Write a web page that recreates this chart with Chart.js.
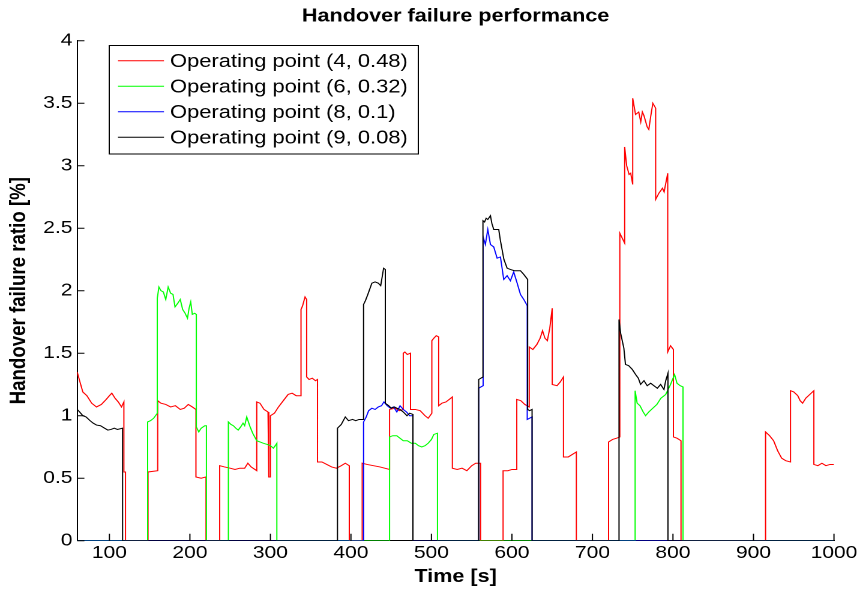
<!DOCTYPE html>
<html>
<head>
<meta charset="utf-8">
<title>Handover failure performance</title>
<script src="https://cdn.jsdelivr.net/npm/chart.js@4.4.1/dist/chart.umd.min.js"></script>
<style>
  html, body { margin: 0; padding: 0; background: #fff; overflow: hidden; }
  /* the original figure is stretched sideways, so the canvas is too */
  #wrap { position: absolute; left: 0; top: 0; width: 719px; height: 590px; transform: scaleX(1.2003); transform-origin: 0 0; }
</style>
</head>
<body>
<div id="wrap"><canvas id="chartCanvas" width="719" height="590" style="width:719px;height:590px"></canvas></div>
<script>
const FONT = '"Liberation Sans", Arial, Helvetica, sans-serif';

const seriesLabels = [
  'Operating point (4, 0.48)',
  'Operating point (6, 0.32)',
  'Operating point (8, 0.1)',
  'Operating point (9, 0.08)'
];
const seriesColors = ['#ff0000', '#00ff00', '#0000ff', '#000000'];

const xTicks = [100, 200, 300, 400, 500, 600, 700, 800, 900, 1000];
const yTicks = [0, 0.5, 1, 1.5, 2, 2.5, 3, 3.5, 4];

// Operating point (4, 0.48)
const redTime = [
  60, 63, 67, 72, 78, 84, 90, 96, 100, 103, 107, 111, 115, 118,
  118, 120, 120, 148, 148, 160,
  160, 164, 170, 176, 182, 188, 193, 198, 203, 207.5,
  207.5, 214, 220, 220, 237,
  237, 243, 250, 256, 262, 268, 272, 276, 283,
  283, 287, 292, 297, 298, 298, 300, 300, 305, 310, 316, 322, 327, 332, 338,
  338, 340, 343, 345, 345, 348, 352, 356, 358.5,
  358.5, 364, 370, 376, 382, 388, 393, 398, 398, 414,
  414, 420, 428, 436, 442, 448,
  448, 455, 460, 465, 465, 467, 470, 474, 474, 480, 486, 492, 496, 500.5,
  500.5, 503, 506, 509, 509, 513, 518, 522, 526,
  526, 532, 538, 544, 550, 555, 561, 561, 589,
  589, 595, 600, 606, 606, 611, 616, 621.5,
  621.5, 626, 631, 635, 638, 641, 644, 647, 650,
  650, 656, 660, 664, 664, 670, 675, 680, 680, 720,
  720, 725, 730, 734, 734, 737, 740,
  740, 742.5, 745.5, 747.5, 750,
  750, 753.5, 757.5, 760, 762, 764, 768, 770, 772.5, 775, 778.5,
  778.5, 782.5, 787, 789, 793.5,
  793.5, 797, 800.5, 800.5, 805, 810, 810, 915,
  915, 920, 925, 930, 935, 940, 946,
  946, 950, 955, 958, 961, 965, 970, 975,
  975, 980, 985, 990, 995, 1000
];
const redValue = [
  1.35, 1.28, 1.19, 1.16, 1.1, 1.07, 1.09, 1.13, 1.16, 1.18, 1.14, 1.11, 1.07, 1.11,
  0.55, 0.55, 0, 0, 0.55, 0.56,
  1.12, 1.1, 1.09, 1.07, 1.08, 1.05, 1.06, 1.09, 1.07, 1.05,
  0.51, 0.5, 0.51, 0, 0,
  0.6, 0.59, 0.58, 0.57, 0.58, 0.58, 0.62, 0.59, 0.56,
  1.11, 1.1, 1.05, 1.03, 1.02, 0.51, 0.51, 1.0, 1.02, 1.07, 1.12, 1.17, 1.18, 1.16, 1.16,
  1.85, 1.88, 1.95, 1.93, 1.31, 1.29, 1.3, 1.28, 1.29,
  0.63, 0.63, 0.61, 0.59, 0.58, 0.6, 0.62, 0.6, 0, 0,
  0.62, 0.61, 0.6, 0.59, 0.58, 0.57,
  1.05, 1.06, 1.04, 1.05, 1.5, 1.51, 1.49, 1.5, 1.05, 1.05, 1.04, 1.0, 0.98, 1.02,
  1.6, 1.62, 1.64, 1.63, 1.08, 1.1, 1.11, 1.13, 1.15,
  0.58, 0.57, 0.58, 0.56, 0.6, 0.62, 0.62, 0, 0,
  0.56, 0.56, 0.57, 0.57, 1.13, 1.12, 1.09, 1.07,
  1.55, 1.53, 1.57, 1.62, 1.68, 1.62, 1.6, 1.7, 1.86,
  1.25, 1.24, 1.27, 1.31, 0.67, 0.67, 0.69, 0.71, 0, 0,
  0.79, 0.81, 0.82, 0.83, 2.46, 2.42, 2.38,
  3.15, 3.0, 2.93, 2.94, 2.85,
  3.54, 3.41, 3.43, 3.35, 3.43, 3.4, 3.31, 3.29, 3.4, 3.5, 3.46,
  2.73, 2.78, 2.82, 2.79, 2.94,
  1.51, 1.56, 1.53, 0.83, 0.82, 0.8, 0, 0,
  0.87, 0.84, 0.8, 0.72, 0.66, 0.64, 0.63,
  1.2, 1.19, 1.16, 1.12, 1.1, 1.14, 1.17, 1.2,
  0.61, 0.6, 0.62, 0.6, 0.61, 0.61
];

// Operating point (6, 0.32)
const greenTime = [
  60, 147.5, 147.5, 151, 155, 159.5,
  159.5, 161.5, 164, 167, 170, 173, 176, 179, 181.5, 185, 188, 191, 194, 197, 199, 201, 203, 206, 208,
  208, 211, 214, 218.5, 220.5, 220.5, 247.8,
  247.8, 251, 254, 257, 260, 263, 266, 268, 270.6, 274.8, 278, 283, 287, 291, 296, 300, 303.7, 306, 308, 308, 448,
  448, 452, 457, 461, 465, 470, 475, 480, 484, 488, 492, 496, 500, 503, 507.5, 507.5, 753,
  753, 755.5, 759, 763, 766, 770, 775, 780, 785, 791, 797, 802, 805, 809, 812.5, 812.5, 1000
];
const greenValue = [
  0, 0, 0.95, 0.96, 0.98, 1.02,
  1.94, 2.03, 2.0, 1.99, 1.93, 2.03, 1.98, 1.97, 1.87, 1.9, 1.93, 1.85, 1.82, 1.78, 1.86, 1.91, 1.81, 1.82, 1.81,
  0.91, 0.87, 0.9, 0.92, 0.92, 0, 0,
  0.95, 0.93, 0.92, 0.9, 0.885, 0.91, 0.94, 0.92, 0.99, 0.91, 0.86, 0.8, 0.79, 0.78, 0.77, 0.76, 0.74, 0.76, 0.78, 0, 0,
  0.83, 0.84, 0.84, 0.82, 0.8, 0.8, 0.78, 0.78, 0.76, 0.75, 0.76, 0.78, 0.81, 0.85, 0.86, 0, 0,
  1.2, 1.1, 1.08, 1.03, 1.0, 1.03, 1.06, 1.09, 1.14, 1.17, 1.25, 1.33, 1.26, 1.24, 1.23, 0, 0
];

// Operating point (8, 0.1)
const blueTime = [
  60, 415.7, 415.7, 419, 422, 426, 430, 434, 438, 441, 445, 449, 453, 457, 461, 465, 469, 473, 477, 477, 558.7,
  558.7, 564.2, 564.2, 567, 570, 573.3, 577.4, 581.6, 585.7, 589.8, 594, 598.1, 602.2, 606.5, 610.6, 614.7, 619,
  619, 622, 625, 625, 1000
];
const blueValue = [
  0, 0, 0.95, 0.99, 1.04, 1.06, 1.05, 1.07, 1.08, 1.11, 1.08, 1.06, 1.07, 1.03, 1.08, 1.05, 1.03, 1.0, 1.0, 0, 0,
  1.22, 1.24, 2.43, 2.37, 2.49, 2.37, 2.35, 2.26, 2.27, 2.09, 2.12, 2.08, 2.15, 2.06, 1.97, 1.93, 1.88,
  0.97, 0.98, 0.99, 0, 0
];

// Operating point (9, 0.08)
const blackTime = [
  60, 63, 67, 71, 76, 80, 84, 89, 94, 98, 102, 106, 110, 116.4, 116.4, 383.3,
  383.3, 388, 393, 397, 402, 406, 410, 415.7,
  415.7, 418, 421, 426, 430, 434, 437, 440.6, 442.7,
  442.7, 447, 450, 454, 457, 461, 465, 469.6, 473, 477, 477, 558.7,
  558.7, 564, 564, 566, 568, 570, 573.3, 575, 577.4, 583.6, 585.7, 590, 594, 598, 603, 610.6, 614.7, 619.5,
  619.5, 622, 625, 625, 733,
  733, 735, 739, 741, 745, 749.5, 753.6, 757, 759.8, 764, 768, 772.3, 776.4, 780.6, 784.7, 788.8, 791, 793.8, 793.8, 1000
];
const blackValue = [
  1.05, 1.03, 1.0, 0.99, 0.96, 0.94, 0.925, 0.92, 0.9, 0.885, 0.89, 0.9, 0.89, 0.9, 0, 0,
  0.9, 0.93, 0.99, 0.96, 0.97, 0.96, 0.97, 0.97,
  1.89, 1.92, 1.97, 2.06, 2.07, 2.06, 2.04, 2.18, 2.17,
  1.1, 1.08, 1.06, 1.07, 1.06, 1.05, 1.03, 1.0, 1.02, 1.01, 0, 0,
  1.29, 1.31, 2.56, 2.55, 2.58, 2.57, 2.6, 2.54, 2.49, 2.49, 2.4, 2.25, 2.18, 2.17, 2.16, 2.16, 2.13, 2.09,
  1.05, 1.04, 1.05, 0, 0,
  1.77, 1.66, 1.54, 1.41, 1.4, 1.37, 1.33, 1.3, 1.25, 1.28, 1.24, 1.26, 1.24, 1.22, 1.25, 1.21, 1.28, 1.34, 0, 0
];

function toPoints(time, value) {
  return time.map((t, i) => ({ x: t, y: value[i] }));
}

const seriesData = [
  toPoints(redTime, redValue),
  toPoints(greenTime, greenValue),
  toPoints(blueTime, blueValue),
  toPoints(blackTime, blackValue)
];

// small inward tick marks, like the matlab axes
const axisMarks = {
  id: 'axisMarks',
  afterDatasetsDraw(chart) {
    const { ctx, chartArea, scales } = chart;
    ctx.save();
    ctx.strokeStyle = '#000';
    ctx.lineWidth = 1;
    ctx.beginPath();
    scales.x.ticks.forEach(t => {
      const px = scales.x.getPixelForValue(t.value);
      ctx.moveTo(px, chartArea.bottom);
      ctx.lineTo(px, chartArea.bottom - 7);
    });
    scales.y.ticks.forEach(t => {
      const py = scales.y.getPixelForValue(t.value);
      ctx.moveTo(chartArea.left, py);
      ctx.lineTo(chartArea.left + 6, py);
    });
    ctx.stroke();
    ctx.restore();
  }
};

// boxed legend in the upper left corner
const boxLegend = {
  id: 'boxLegend',
  afterDraw(chart) {
    const ctx = chart.ctx;
    const left = 91, top = 45.5, width = 257.5, height = 108.5;
    ctx.save();
    ctx.fillStyle = '#fff';
    ctx.fillRect(left, top, width, height);
    ctx.strokeStyle = '#000';
    ctx.lineWidth = 1;
    ctx.strokeRect(left, top, width, height);
    ctx.font = '18.3px ' + FONT;
    ctx.textBaseline = 'middle';
    chart.data.datasets.forEach((ds, i) => {
      const y = 60.7 + i * 25.5;
      ctx.strokeStyle = ds.borderColor;
      ctx.beginPath();
      ctx.moveTo(98.3, y);
      ctx.lineTo(136.6, y);
      ctx.stroke();
      ctx.fillStyle = '#000';
      ctx.fillText(ds.label, 141.6, y + 1.5);
    });
    ctx.restore();
  }
};

const ctx = document.getElementById('chartCanvas').getContext('2d');
const chartCanvas = new Chart(ctx, {
  type: 'line',
  data: {
    datasets: seriesLabels.map((label, i) => ({
      label: label,
      data: seriesData[i],
      borderColor: seriesColors[i],
      borderWidth: 1,
      pointRadius: 0,
      tension: 0,
      fill: false,
      order: 4 - i
    }))
  },
  options: {
    responsive: false,
    animation: false,
    devicePixelRatio: 2,
    events: [],
    layout: {
      padding: { left: 0, right: 24.2, top: 0, bottom: 0 }
    },
    scales: {
      x: {
        type: 'linear',
        min: 60,
        max: 1000,
        afterBuildTicks: scale => { scale.ticks = xTicks.map(v => ({ value: v })); },
        afterFit: scale => { scale.height = 49.3; },
        grid: { display: false, drawTicks: false },
        border: { display: true, color: '#000', width: 1 },
        ticks: {
          color: '#000',
          padding: 2,
          maxRotation: 0,
          autoSkip: false,
          font: { family: FONT, size: 17.5 },
          callback: v => String(v)
        },
        title: {
          display: true,
          text: 'Time [s]',
          color: '#000',
          font: { family: FONT, size: 18, weight: 'bold' },
          padding: { top: 0, bottom: 2.2 }
        }
      },
      y: {
        min: 0,
        max: 4,
        afterBuildTicks: scale => { scale.ticks = yTicks.map(v => ({ value: v })); },
        afterFit: scale => { scale.width = 64.3; },
        grid: { display: false, drawTicks: false },
        border: { display: true, color: '#000', width: 1 },
        ticks: {
          color: '#000',
          padding: 4,
          font: { family: FONT, size: 17.5 },
          callback: v => String(v)
        },
        title: {
          display: true,
          text: 'Handover failure ratio [%]',
          color: '#000',
          font: { family: FONT, size: 18.7, weight: 'bold' },
          padding: { top: 4.6, bottom: 0 }
        }
      }
    },
    plugins: {
      legend: { display: false },
      tooltip: { enabled: false },
      title: {
        display: true,
        text: 'Handover failure performance',
        color: '#000',
        fullSize: false,
        font: { family: FONT, size: 18, weight: 'bold' },
        padding: { top: 5.9, bottom: 13.2 }
      }
    }
  },
  plugins: [axisMarks, boxLegend]
});
</script>
</body>
</html>
